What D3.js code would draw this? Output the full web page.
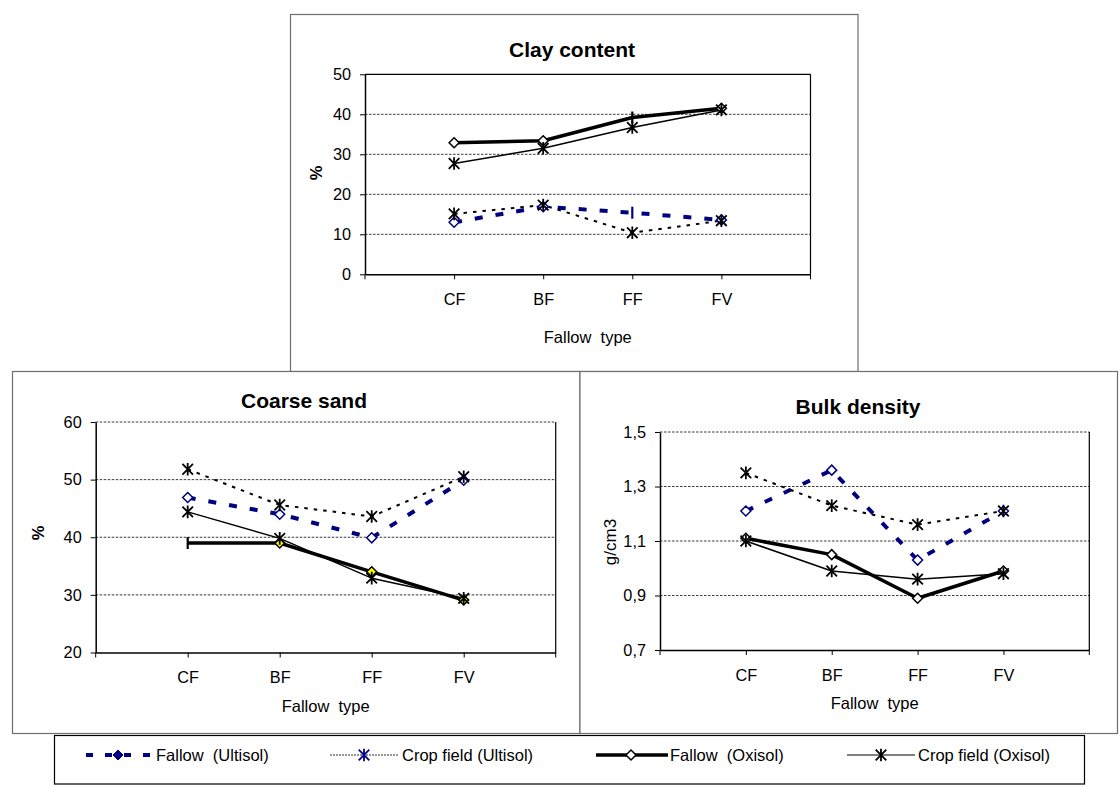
<!DOCTYPE html>
<html>
<head>
<meta charset="utf-8">
<script src="https://cdn.jsdelivr.net/npm/d3@7"></script>
<style>
  html, body { margin: 0; padding: 0; background: #fff; }
  svg { display: block; font-family: "Liberation Sans", Arial, sans-serif; }
  text { white-space: pre; }
</style>
</head>
<body>
<svg id="chart" width="1119" height="787"></svg>
<script>
// ---- data ----
const categories = ["CF", "BF", "FF", "FV"];
const seriesNames = ["Fallow  (Ultisol)", "Crop field (Ultisol)", "Fallow  (Oxisol)", "Crop field (Oxisol)"];

// Clay content (%)
const clayFallowUltisol = [13.0, 16.9, 15.4, 13.6];
const clayCropUltisol   = [15.1, 17.3, 10.4, 13.4];
const clayFallowOxisol  = [32.9, 33.4, 39.2, 41.5];
const clayCropOxisol    = [27.7, 31.5, 36.7, 41.1];
const clayTicks = [0, 10, 20, 30, 40, 50];

// Coarse sand (%)
const sandFallowUltisol = [46.9, 44.0, 39.9, 49.9];
const sandCropUltisol   = [51.8, 45.6, 43.6, 50.5];
const sandFallowOxisol  = [39.0, 39.0, 34.0, 29.1];
const sandCropOxisol    = [44.4, 39.8, 32.9, 29.4];
const sandTicks = [20, 30, 40, 50, 60];

// Bulk density (g/cm3)
const densityFallowUltisol = [1.21, 1.36, 1.03, 1.21];
const densityCropUltisol   = [1.35, 1.23, 1.16, 1.21];
const densityFallowOxisol  = [1.11, 1.05, 0.89, 0.99];
const densityCropOxisol    = [1.10, 0.99, 0.96, 0.98];
const densityTicks = [0.7, 0.9, 1.1, 1.3, 1.5];

// ---- styles per series ----
const seriesStyle = [
  { stroke: "#000080", width: 4,   dash: "8,13", marker: "diamond", mStroke: "#000080", mFill: "#fff" },
  { stroke: "#000",    width: 2,   dash: "3.5,6", marker: "star",   mStroke: "#000" },
  { stroke: "#000",    width: 3.5, dash: null,   marker: "diamond", mStroke: "#000",    mFill: "#fff" },
  { stroke: "#000",    width: 1.5, dash: null,   marker: "star",    mStroke: "#000" }
];

const commaFmt = d => d3.format(".1f")(d).replace(".", ",");

const panels = [
  {
    title: "Clay content", yTitle: "%", yTitleBold: true, solidTop: true,
    series: [clayFallowUltisol, clayCropUltisol, clayFallowOxisol, clayCropOxisol],
    ticks: clayTicks, fmt: d3.format("d"),
    box: { x: 290.5, y: 14.5, w: 567.5, h: 357 },
    plot: { l: 365, r: 810.5, t: 74.3, b: 274.3 },
    titlePos: [572, 50], yTitlePos: [316, 173], xTitleY: 337,
    bars: [[0, 2], [2, 2]], markerFill: null
  },
  {
    title: "Coarse sand", yTitle: "%", yTitleBold: true, solidTop: false,
    series: [sandFallowUltisol, sandCropUltisol, sandFallowOxisol, sandCropOxisol],
    ticks: sandTicks, fmt: d3.format("d"),
    box: { x: 12.5, y: 371.5, w: 567.5, h: 362 },
    plot: { l: 95.7, r: 555.7, t: 422, b: 652.5 },
    titlePos: [304, 401], yTitlePos: [38, 533], xTitleY: 706,
    bars: [[2, 0]], markerFill: { 2: "#ffff00" }
  },
  {
    title: "Bulk density", yTitle: "g/cm3", yTitleBold: false, solidTop: false,
    series: [densityFallowUltisol, densityCropUltisol, densityFallowOxisol, densityCropOxisol],
    ticks: densityTicks, fmt: commaFmt,
    box: { x: 580, y: 371.5, w: 537.5, h: 362 },
    plot: { l: 660, r: 1089.3, t: 432, b: 650 },
    titlePos: [858, 407], yTitlePos: [610, 542], xTitleY: 703,
    bars: [], markerFill: null
  }
];

const svg = d3.select("#chart");

function drawMarker(g, type, cx, cy, stroke, fill) {
  if (type === "diamond") {
    g.append("path")
      .attr("d", `M${cx},${cy - 5}L${cx + 5},${cy}L${cx},${cy + 5}L${cx - 5},${cy}Z`)
      .attr("fill", fill || "#fff").attr("stroke", stroke).attr("stroke-width", 1.5);
  } else if (type === "star") {
    const r = 5.3;
    g.append("path")
      .attr("d", `M${cx - r},${cy - r}L${cx + r},${cy + r}M${cx - r},${cy + r}L${cx + r},${cy - r}M${cx},${cy - r - 1}L${cx},${cy + r + 1}`)
      .attr("fill", "none").attr("stroke", stroke).attr("stroke-width", 1.8);
  } else if (type === "bar") {
    g.append("line")
      .attr("x1", cx).attr("x2", cx).attr("y1", cy - 6).attr("y2", cy + 6)
      .attr("stroke", stroke).attr("stroke-width", 2.2);
  } else if (type === "filledDiamond") {
    g.append("path")
      .attr("d", `M${cx},${cy - 5}L${cx + 5},${cy}L${cx},${cy + 5}L${cx - 5},${cy}Z`)
      .attr("fill", stroke).attr("stroke", stroke).attr("stroke-width", 1);
  }
}

panels.forEach(p => {
  const g = svg.append("g");
  // panel frame
  g.append("rect")
    .attr("x", p.box.x).attr("y", p.box.y).attr("width", p.box.w).attr("height", p.box.h)
    .attr("fill", "#fff").attr("stroke", "#6e6e6e").attr("stroke-width", 1.2);

  const x = d3.scalePoint().domain(categories).range([p.plot.l, p.plot.r]).padding(1);
  const y = d3.scaleLinear().domain(d3.extent(p.ticks)).range([p.plot.b, p.plot.t]);

  // gridlines
  g.append("g").selectAll("line")
    .data(p.solidTop ? p.ticks.slice(1, -1) : p.ticks.slice(1))
    .join("line")
    .attr("x1", p.plot.l).attr("x2", p.plot.r)
    .attr("y1", d => y(d)).attr("y2", d => y(d))
    .attr("stroke", "#3a3a3a").attr("stroke-width", 1).attr("stroke-dasharray", "2.5,1.5");
  if (p.solidTop) {
    g.append("line")
      .attr("x1", p.plot.l).attr("x2", p.plot.r).attr("y1", p.plot.t).attr("y2", p.plot.t)
      .attr("stroke", "#000").attr("stroke-width", 1.2);
  }

  // plot area right border
  g.append("line")
    .attr("x1", p.plot.r).attr("x2", p.plot.r).attr("y1", p.plot.t).attr("y2", p.plot.b)
    .attr("stroke", "#000").attr("stroke-width", 1.2);

  // y axis
  const yAxis = g.append("g")
    .attr("transform", `translate(${p.plot.l},0)`)
    .call(d3.axisLeft(y).tickValues(p.ticks).tickFormat(p.fmt).tickSize(5).tickPadding(9).tickSizeOuter(0));
  yAxis.select(".domain").attr("stroke", "#000").attr("stroke-width", 1.5);
  yAxis.selectAll(".tick line").attr("stroke", "#000");
  yAxis.selectAll("text").attr("font-size", 16.3).attr("fill", "#000")
    .attr("font-family", "'Liberation Sans', Arial, sans-serif");

  // x axis
  const xAxis = g.append("g")
    .attr("transform", `translate(0,${p.plot.b})`)
    .call(d3.axisBottom(x).tickSize(5).tickPadding(14).tickSizeOuter(0));
  xAxis.select(".domain").attr("stroke", "#000").attr("stroke-width", 1.5);
  xAxis.selectAll(".tick line").attr("stroke", "#000");
  xAxis.selectAll("text").attr("font-size", 16.3).attr("fill", "#000")
    .attr("font-family", "'Liberation Sans', Arial, sans-serif");
  // end tick marks at both edges of the category axis
  xAxis.selectAll(".edge")
    .data(x.range())
    .join("line")
    .attr("x1", d => d).attr("x2", d => d).attr("y1", 0).attr("y2", 5)
    .attr("stroke", "#000");

  // series lines
  const line = d3.line().x((d, i) => x(categories[i])).y(d => y(d));
  p.series.forEach((vals, si) => {
    const st = seriesStyle[si];
    g.append("path")
      .attr("d", line(vals))
      .attr("fill", "none")
      .attr("stroke", st.stroke)
      .attr("stroke-width", st.width)
      .attr("stroke-dasharray", st.dash)
      .attr("stroke-linejoin", "round");
  });
  // series markers
  p.series.forEach((vals, si) => {
    const st = seriesStyle[si];
    vals.forEach((v, i) => {
      const isBar = p.bars.some(b => b[0] === si && b[1] === i);
      const fill = p.markerFill && p.markerFill[si] ? p.markerFill[si] : st.mFill;
      drawMarker(g, isBar ? "bar" : st.marker, x(categories[i]), y(v), st.mStroke, fill);
    });
  });

  // titles
  g.append("text")
    .attr("x", p.titlePos[0]).attr("y", p.titlePos[1]).attr("dy", "0.35em")
    .attr("text-anchor", "middle").attr("font-size", 21).attr("font-weight", "bold")
    .text(p.title);
  g.append("text")
    .attr("transform", `translate(${p.yTitlePos[0]},${p.yTitlePos[1]}) rotate(-90)`)
    .attr("dy", "0.35em").attr("text-anchor", "middle")
    .attr("font-size", p.yTitleBold ? 16.5 : 17).attr("font-weight", p.yTitleBold ? "bold" : "normal")
    .text(p.yTitle);
  g.append("text")
    .attr("x", (p.plot.l + p.plot.r) / 2).attr("y", p.xTitleY).attr("dy", "0.35em")
    .attr("text-anchor", "middle").attr("font-size", 16.5)
    .text("Fallow  type");
});

// ---- legend ----
const lg = svg.append("g");
lg.append("rect")
  .attr("x", 54.5).attr("y", 735.5).attr("width", 1030).attr("height", 48.5)
  .attr("fill", "#fff").attr("stroke", "#000").attr("stroke-width", 1.2);
const ly = 755;
const legendItems = [
  { x1: 86,  x2: 150, mx: 118, tx: 156, stroke: "#000080", width: 4,   dash: "7,12", marker: "filledDiamond", mStroke: "#000080" },
  { x1: 330, x2: 398, mx: 364, tx: 402, stroke: "#777",    width: 1.3, dash: "2,1",  marker: "star",          mStroke: "#000080" },
  { x1: 596, x2: 668, mx: 631, tx: 670, stroke: "#000",    width: 3.5, dash: null,   marker: "diamond",       mStroke: "#000", mFill: "#fff" },
  { x1: 847, x2: 915, mx: 881, tx: 918, stroke: "#555",    width: 1.6, dash: null,   marker: "star",          mStroke: "#000" }
];
legendItems.forEach((it, i) => {
  lg.append("line")
    .attr("x1", it.x1).attr("x2", it.x2).attr("y1", ly).attr("y2", ly)
    .attr("stroke", it.stroke).attr("stroke-width", it.width).attr("stroke-dasharray", it.dash);
  drawMarker(lg, it.marker, it.mx, ly, it.mStroke, it.mFill);
  lg.append("text")
    .attr("x", it.tx).attr("y", ly).attr("dy", "0.35em")
    .attr("font-size", 16.5).text(seriesNames[i]);
});
</script>
</body>
</html>
